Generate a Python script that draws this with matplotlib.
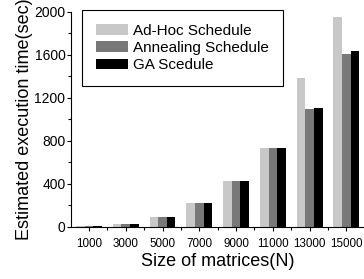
import numpy as np
import matplotlib
matplotlib.use('Agg')
import matplotlib.pyplot as plt
from matplotlib.ticker import MultipleLocator

sizes = ['1000', '3000', '5000', '7000', '9000', '11000', '13000', '15000']
adhoc = [5, 30, 95, 220, 430, 730, 1390, 1950]
annealing = [5, 28, 95, 220, 430, 730, 1100, 1605]
ga = [5, 28, 95, 220, 430, 730, 1110, 1635]

plt.rcParams['font.family'] = ['Liberation Sans', 'DejaVu Sans']

fig = plt.figure(figsize=(3.64, 2.79), dpi=100)
ax = fig.add_axes([0.195, 0.187, 0.805, 0.770])

x = np.arange(len(sizes))
w = 0.235
ax.bar(x - w, adhoc, w, color='#c8c8c8', label='Ad-Hoc Schedule')
ax.bar(x, annealing, w, color='#787878', label='Annealing Schedule')
ax.bar(x + w, ga, w, color='#000000', label='GA Scedule')

ax.set_xlim(-0.49, 7.48)
ax.set_ylim(0, 2000)
ax.set_xticks(x)
ax.set_xticklabels(sizes, fontsize=8.4)
ax.set_xticks(x[:-1] + 0.5, minor=True)
ax.yaxis.set_major_locator(MultipleLocator(400))
ax.yaxis.set_minor_locator(MultipleLocator(200))
ax.tick_params(axis='y', labelsize=10, length=3, width=0.8, pad=1)
ax.tick_params(axis='x', length=3, width=0.8, pad=5)
ax.tick_params(which='minor', length=2, width=0.8)
ax.spines['top'].set_visible(False)
ax.spines['right'].set_visible(False)
ax.set_ylabel('Estimated execution time(sec)', fontsize=13, labelpad=1)
ax.set_xlabel('Size of matrices(N)', fontsize=13, labelpad=2)

leg = ax.legend(loc='upper left', bbox_to_anchor=(0.038, 1.01), fontsize=11,
                fancybox=False, edgecolor='black', framealpha=1,
                handlelength=2.1, handleheight=0.7, labelspacing=0.22,
                borderpad=0.9, handletextpad=0.35, borderaxespad=0)
leg.get_frame().set_linewidth(0.8)

fig.savefig('out.png', dpi=100)
